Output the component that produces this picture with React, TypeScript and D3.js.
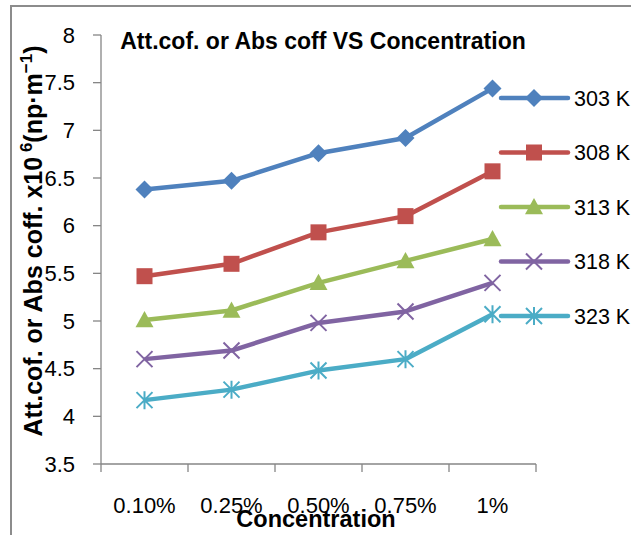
import React from "react";
import * as d3 from "d3";

const categories = ["0.10%", "0.25%", "0.50%", "0.75%", "1%"];
const seriesNames = ["303 K", "308 K", "313 K", "318 K", "323 K"];
const s303 = [6.38, 6.47, 6.76, 6.92, 7.44];
const s308 = [5.47, 5.6, 5.93, 6.1, 6.57];
const s313 = [5.01, 5.11, 5.4, 5.63, 5.86];
const s318 = [4.6, 4.69, 4.98, 5.1, 5.4];
const s323 = [4.17, 4.28, 4.48, 4.6, 5.07];
const yTicks = [3.5, 4, 4.5, 5, 5.5, 6, 6.5, 7, 7.5, 8];
const colors = ["#4F81BD", "#C0504D", "#9BBB59", "#8064A2", "#4BACC6"];
const markers = ["diamond", "square", "triangle", "x", "star"];

const W = 631, H = 535;
const font = "'Liberation Sans', Arial, sans-serif";

function Marker({ type, x, y, color }: { type: string; x: number; y: number; color: string }) {
  if (type === "diamond") {
    const r = 9;
    return <path d={`M${x},${y - r}L${x + r},${y}L${x},${y + r}L${x - r},${y}Z`} fill={color} />;
  }
  if (type === "square") {
    const r = 8;
    return <rect x={x - r} y={y - r} width={2 * r} height={2 * r} fill={color} />;
  }
  if (type === "triangle") {
    const r = 9;
    return <path d={`M${x},${y - r}L${x + r},${y + r * 0.8}L${x - r},${y + r * 0.8}Z`} fill={color} />;
  }
  if (type === "x") {
    const r = 8;
    return (
      <path d={`M${x - r},${y - r}L${x + r},${y + r}M${x - r},${y + r}L${x + r},${y - r}`} stroke={color} strokeWidth={2} />
    );
  }
  const r = 8;
  return (
    <path
      d={`M${x - r},${y - r}L${x + r},${y + r}M${x - r},${y + r}L${x + r},${y - r}M${x},${y - r - 1}L${x},${y + r + 1}`}
      stroke={color}
      strokeWidth={2}
    />
  );
}

export default function App() {
  const series = [s303, s308, s313, s318, s323];
  const x = d3.scaleBand<string>().domain(categories).range([101, 536]);
  const y = d3.scaleLinear().domain([3.5, 8]).range([464, 35]);
  const cx = (i: number) => (x(categories[i]) as number) + x.bandwidth() / 2;
  const line = d3
    .line<number>()
    .x((_, i) => cx(i))
    .y((d) => y(d));
  const bounds = [...categories.map((c) => x(c) as number), 536];

  return (
    <svg width={W} height={H} style={{ position: "absolute", left: 0, top: 0, background: "#fff" }}>
      <rect x={11} y={6} width={700} height={600} fill="#fff" stroke="#8c8c8c" strokeWidth={2} />
      {/* axes */}
      <line x1={101} x2={101} y1={y(8)} y2={y(3.5)} stroke="#868686" strokeWidth={1.3} />
      <line x1={101} x2={536} y1={y(3.5)} y2={y(3.5)} stroke="#868686" strokeWidth={1.3} />
      {yTicks.map((t) => (
        <g key={t}>
          <line x1={93} x2={101} y1={y(t)} y2={y(t)} stroke="#868686" strokeWidth={1.3} />
          <text x={75} y={y(t)} dy="0.35em" textAnchor="end" fontFamily={font} fontSize={22} fill="#000">
            {t}
          </text>
        </g>
      ))}
      {bounds.map((b, i) => (
        <line key={i} x1={b} x2={b} y1={y(3.5)} y2={y(3.5) + 8} stroke="#868686" strokeWidth={1.3} />
      ))}
      {categories.map((c, i) => (
        <text key={c} x={cx(i)} y={513} textAnchor="middle" fontFamily={font} fontSize={22} fill="#000">
          {c}
        </text>
      ))}
      {/* series */}
      {series.map((s, si) => (
        <g key={si}>
          <path d={line(s) || ""} fill="none" stroke={colors[si]} strokeWidth={4.5} strokeLinejoin="round" />
          {s.map((v, i) => (
            <Marker key={i} type={markers[si]} x={cx(i)} y={y(v)} color={colors[si]} />
          ))}
        </g>
      ))}
      {/* legend */}
      {seriesNames.map((n, i) => {
        const ly = 98 + i * 54.5;
        return (
          <g key={n}>
            <line x1={501} x2={568} y1={ly} y2={ly} stroke={colors[i]} strokeWidth={4.5} strokeLinecap="round" />
            <Marker type={markers[i]} x={534} y={ly} color={colors[i]} />
            <text x={574} y={ly} dy="0.35em" fontFamily={font} fontSize={21.5} fill="#000">
              {n}
            </text>
          </g>
        );
      })}
      {/* title */}
      <text x={323} y={49} textAnchor="middle" fontFamily={font} fontSize={23} fontWeight="bold" fill="#000">
        Att.cof. or Abs coff VS Concentration
      </text>
      {/* x axis title */}
      <text x={316} y={527} textAnchor="middle" fontFamily={font} fontSize={23.5} fontWeight="bold" fill="#000">
        Concentration
      </text>
      {/* y axis title */}
      <text
        transform="translate(42,241) rotate(-90)"
        textAnchor="middle"
        fontFamily={font}
        fontSize={25}
        fontWeight="bold"
        fill="#000"
      >
        Att.cof. or Abs coff. x10
        <tspan dy={-10} fontSize={17}> 6</tspan>
        <tspan dy={10}>(np·m</tspan>
        <tspan dy={-10} fontSize={17}>−1</tspan>
        <tspan dy={10}>)</tspan>
      </text>
    </svg>
  );
}
